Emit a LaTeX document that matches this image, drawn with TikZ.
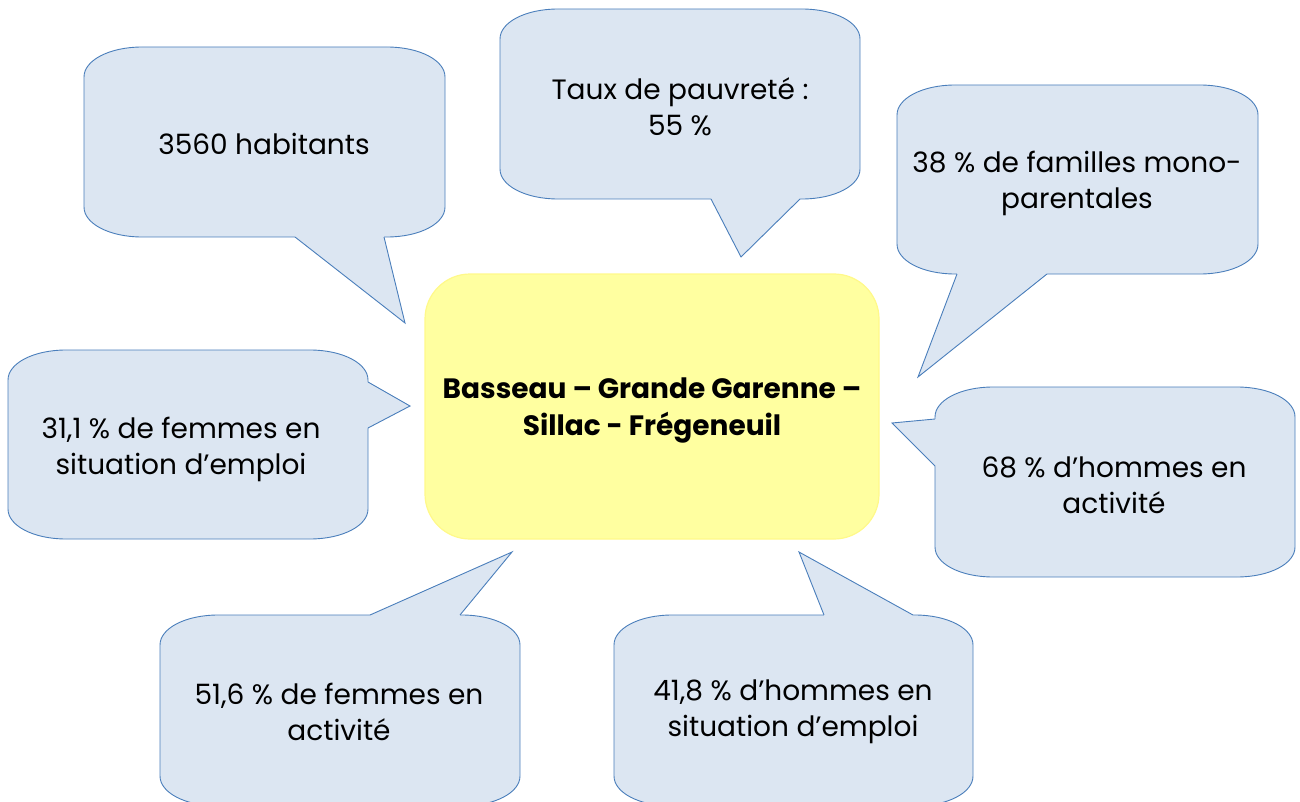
\documentclass[tikz,border=0pt]{standalone}
\usepackage{fontspec}
\setmainfont{Poppins}

\definecolor{bleu}{HTML}{DCE6F2}
\definecolor{trait}{HTML}{4A7EBB}
\definecolor{jaune}{HTML}{FFFFA0}
\definecolor{jauneb}{HTML}{FFF98A}

\tikzset{
  bulle/.style={fill=bleu,draw=trait,line width=0.9pt},
  texte/.style={align=center,font=\fontsize{28}{36}\selectfont}
}

% bulle : coin haut gauche (#1,#2), coin bas droit (#3,#4)
\newcommand\bulle[4]{%
  \filldraw[bulle] (#1,#2+30) .. controls (#1,#2+13) and (#1+26,#2) .. (#1+58,#2)
    -- (#3-58,#2) .. controls (#3-26,#2) and (#3,#2+13) .. (#3,#2+30)
    -- (#3,#4-30) .. controls (#3,#4-13) and (#3-26,#4) .. (#3-58,#4)
    -- (#1+58,#4) .. controls (#1+26,#4) and (#1,#4-13) .. (#1,#4-30) -- cycle;}
% pointe : base, sommet, base, decalage vers l'interieur
\newcommand\pointe[4]{%
  \fill[bleu] (#1) -- (#2) -- (#3) -- ([shift={#4}]#3) -- ([shift={#4}]#1) -- cycle;
  \draw[trait,line width=0.9pt] (#1) -- (#2) -- (#3);}

\begin{document}
\begin{tikzpicture}[x=1pt,y=-1pt]
\useasboundingbox (0,0) rectangle (1300,802);

\bulle{84}{47}{445}{237}
\pointe{295,237}{405,323}{384,237}{(0,-4)}
\bulle{500}{9}{860}{199}
\pointe{711,199}{741,257}{800,199}{(0,-4)}
\bulle{897}{85}{1258}{274}
\pointe{957,274}{918,377}{1047,274}{(0,-4)}
\bulle{935}{387}{1295}{577}
\pointe{935,419}{892,423}{935,466}{(4,0)}
\bulle{8}{350}{368}{539}
\pointe{368,382}{410,406}{368,428}{(-4,0)}
\bulle{160}{615}{520}{806}
\pointe{370,615}{512,552}{460,615}{(0,4)}
\bulle{614}{615}{973}{806}
\pointe{824,615}{799,552}{913,615}{(0,4)}

\draw[fill=jaune,draw=jauneb,line width=1.2pt,rounded corners=45] (425,274) rectangle (879,539);

\node[texte] (hab) at (264,144) {3560 habitants};
\node[texte] (pauv) at (680,107) {Taux de pauvreté :\\55 \%};
\node[texte] (fam) at (1077,183) {38 \% de familles mono-\\parentales};
\node[texte] (hact) at (1114,485) {68 \% d’hommes en\\activité};
\node[texte] (femp) at (181,449) {31,1 \% de femmes en\\situation d’emploi};
\node[texte] (fact) at (339,712) {51,6 \% de femmes en\\activité};
\node[texte] (hemp) at (793,712) {41,8 \% d’hommes en\\situation d’emploi};
\node[texte,font=\fontsize{28}{37}\selectfont\bfseries] (quartier) at (652,410)
  {Basseau – Grande Garenne –\\Sillac - Frégeneuil};
\end{tikzpicture}
\end{document}
